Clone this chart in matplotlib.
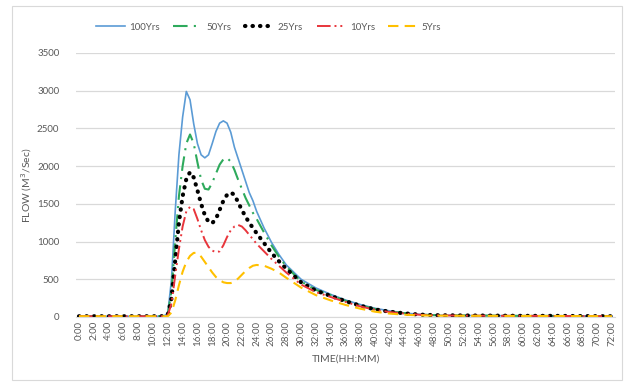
import matplotlib
matplotlib.use("Agg")
import matplotlib.pyplot as plt
from matplotlib.patches import Rectangle

# hours
hours = [0, 2, 4, 6, 8, 10, 11, 11.5, 12, 12.5, 13, 13.5, 14, 14.5, 15, 15.5, 16, 16.5,
         17, 17.5, 18, 18.5, 19, 19.5, 20, 20.5, 21, 21.5, 22, 22.5, 23, 23.5, 24,
         25, 26, 27, 28, 30, 32, 34, 36, 38, 40, 42, 44, 46, 48, 52, 56, 60, 64, 68, 72]

q100 = [10, 10, 10, 10, 10, 10, 10, 15, 50, 500, 1400, 2150, 2650, 2990, 2880, 2560, 2300, 2150,
        2110, 2150, 2300, 2460, 2570, 2600, 2570, 2450, 2250, 2100, 1950, 1800, 1650, 1540, 1400,
        1180, 990, 830, 690, 500, 385, 300, 225, 165, 115, 80, 52, 35, 25, 20, 18, 15, 15, 12, 10]
q50 = [10, 10, 10, 10, 10, 10, 10, 12, 40, 350, 1000, 1600, 2000, 2300, 2420, 2300, 2050, 1820,
       1700, 1690, 1780, 1900, 2020, 2090, 2110, 2060, 1950, 1820, 1700, 1580, 1480, 1380, 1300,
       1120, 950, 800, 670, 470, 360, 290, 215, 155, 105, 75, 50, 33, 24, 20, 18, 15, 15, 12, 10]
q25 = [10, 10, 10, 10, 10, 10, 10, 12, 30, 250, 750, 1250, 1600, 1830, 1920, 1850, 1680, 1500,
       1350, 1260, 1245, 1300, 1420, 1540, 1620, 1650, 1620, 1520, 1420, 1330, 1250, 1180, 1110,
       980, 850, 740, 640, 460, 350, 280, 210, 150, 100, 70, 48, 32, 24, 20, 18, 15, 15, 12, 10]
q10 = [10, 10, 10, 10, 10, 10, 10, 12, 25, 180, 550, 900, 1200, 1400, 1460, 1430, 1300, 1150,
       1020, 930, 880, 860, 870, 950, 1060, 1150, 1200, 1220, 1200, 1150, 1090, 1030, 970,
       870, 770, 680, 590, 430, 330, 265, 200, 140, 95, 65, 45, 30, 22, 18, 16, 15, 14, 12, 10]
q5 = [10, 10, 10, 10, 10, 10, 10, 10, 10, 60, 220, 420, 600, 730, 810, 850, 850, 800,
      730, 660, 590, 530, 490, 460, 450, 450, 470, 510, 560, 610, 650, 680, 690,
      680, 640, 590, 520, 390, 290, 220, 160, 110, 70, 45, 30, 22, 18, 16, 15, 14, 13, 12, 10]

tick_hours = list(range(0, 73, 2))
tick_labels = ["%d:00" % h for h in tick_hours]

plt.rcParams['font.family'] = ['Lato', 'DejaVu Sans']
gray = '#595959'

fig = plt.figure(figsize=(6.29, 3.82), dpi=100)
ax = fig.add_axes([76 / 629, 65 / 382, 539 / 629, 264 / 382])

ax.plot(hours, q100, color='#5B9BD5', lw=1.2, label='100Yrs')
ax.plot(hours, q50, color='#2EAA5C', lw=1.5, ls=(0, (7, 3, 1, 3)), label='50Yrs')
ax.plot(hours, q25, color='black', lw=3.0, ls=(0, (0.1, 1.7)), dash_capstyle='round', label='25Yrs')
ax.plot(hours, q10, color='#E8353B', lw=1.4, ls=(0, (7, 2, 1, 2, 1, 2)), label='10Yrs')
ax.plot(hours, q5, color='#FFC000', lw=1.5, ls=(0, (5, 3)), label='5Yrs')

ax.set_xlim(-0.4, 72.4)
ax.set_ylim(0, 3500)
ax.set_yticks(range(0, 3501, 500))
ax.set_xticks(tick_hours)
ax.set_xticklabels(tick_labels, rotation=90)
ax.tick_params(axis='both', length=0, colors=gray, labelsize=7)
ax.tick_params(axis='y', pad=12)
ax.tick_params(axis='x', pad=3)
ax.grid(axis='y', color='#D9D9D9', lw=0.9)
ax.set_axisbelow(True)
for s in ['top', 'right', 'left']:
    ax.spines[s].set_visible(False)
ax.spines['bottom'].set_color('#D9D9D9')

ax.set_ylabel('FLOW (M$^3$/Sec)', color=gray, fontsize=7.5, labelpad=2)
ax.set_xlabel('TIME(HH:MM)', color=gray, fontsize=7.5, labelpad=6)

ax.legend(loc='center', bbox_to_anchor=(0.357, 1.098), ncol=5, frameon=False,
          fontsize=7, labelcolor=gray, handlelength=3.0, columnspacing=1.4, handletextpad=0.4)

fig.patches.append(Rectangle((12 / 629, 2 / 382), 610 / 629, 374 / 382, transform=fig.transFigure,
                             fill=False, edgecolor='#D9D9D9', lw=0.8))

fig.savefig('out.png', dpi=100)
